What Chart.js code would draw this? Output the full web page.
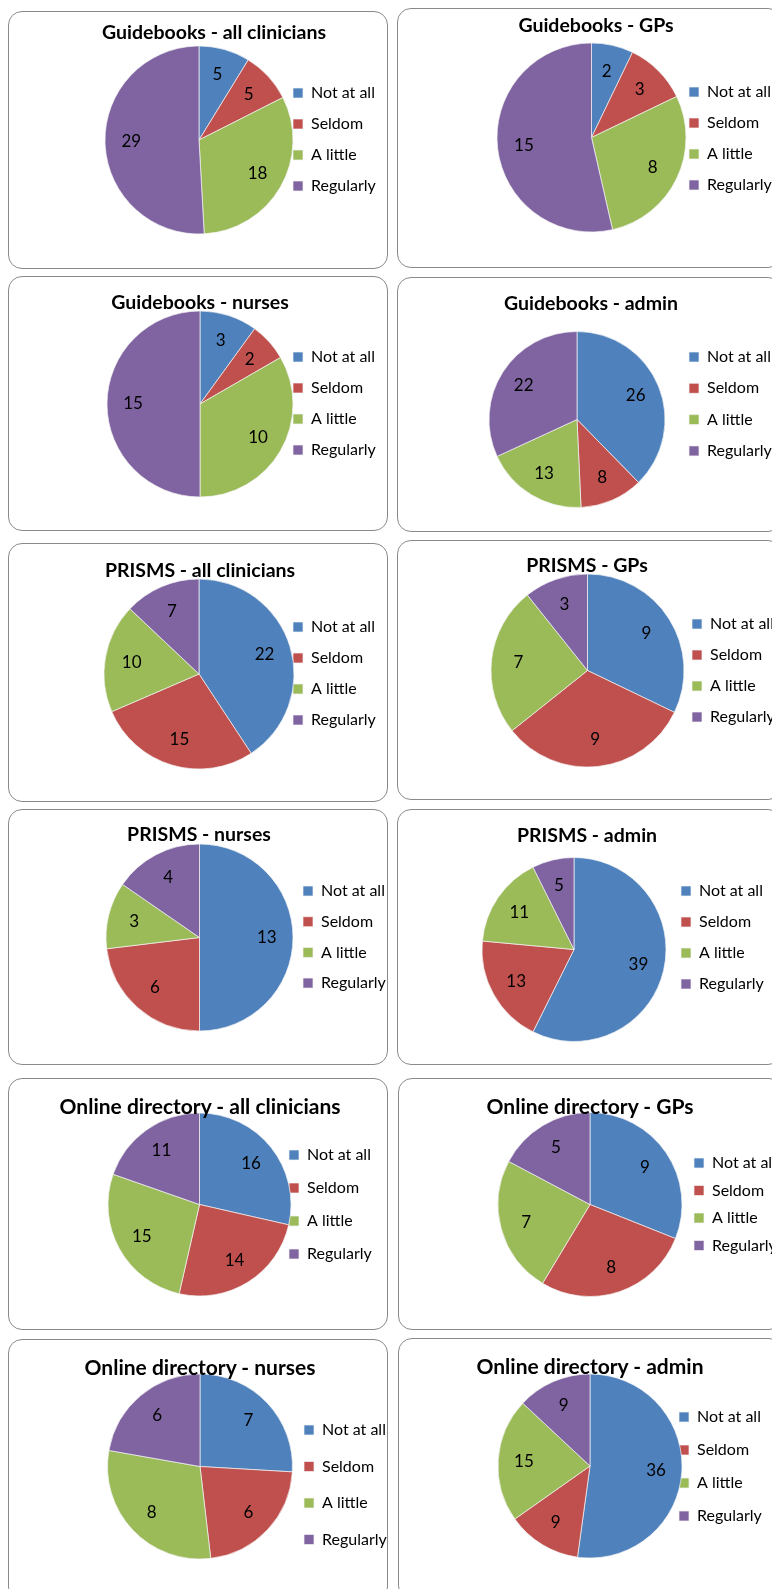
<!DOCTYPE html>
<html>
<head>
<meta charset="utf-8">
<script src="https://cdn.jsdelivr.net/npm/chart.js@4.4.0/dist/chart.umd.min.js"></script>
<style>
html,body{margin:0;padding:0;background:#fff;overflow:hidden;}
body{width:772px;height:1589px;position:relative;font-family:Lato,sans-serif;}
.panel{position:absolute;border:1px solid #8a8a8a;border-radius:14px;box-sizing:border-box;background:#fff;}
canvas{position:absolute;}
.ttl{position:absolute;transform:translate(-50%,-50%);font-weight:bold;white-space:nowrap;line-height:1;color:#000;}
</style>
</head>
<body>
<script>
// categories + colours shared by every pie
const categories = ['Not at all', 'Seldom', 'A little', 'Regularly'];
const colors = ['#4F81BD', '#C0504D', '#9BBB59', '#8064A2'];

// values
const guidebooksAll    = [5, 5, 18, 29];
const guidebooksGPs    = [2, 3, 8, 15];
const guidebooksNurses = [3, 2, 10, 15];
const guidebooksAdmin  = [26, 8, 13, 22];
const prismsAll        = [22, 15, 10, 7];
const prismsGPs        = [9, 9, 7, 3];
const prismsNurses     = [13, 6, 3, 4];
const prismsAdmin      = [39, 13, 11, 5];
const onlineAll        = [16, 14, 15, 11];
const onlineGPs        = [9, 8, 7, 5];
const onlineNurses     = [7, 6, 8, 6];
const onlineAdmin      = [36, 9, 15, 9];

const titles = [
  'Guidebooks - all clinicians', 'Guidebooks - GPs',
  'Guidebooks - nurses', 'Guidebooks - admin',
  'PRISMS - all clinicians', 'PRISMS - GPs',
  'PRISMS - nurses', 'PRISMS - admin',
  'Online directory - all clinicians', 'Online directory - GPs',
  'Online directory - nurses', 'Online directory - admin'
];
const series = [guidebooksAll, guidebooksGPs, guidebooksNurses, guidebooksAdmin,
  prismsAll, prismsGPs, prismsNurses, prismsAdmin,
  onlineAll, onlineGPs, onlineNurses, onlineAdmin];

// panel box, title centre, pie centre/radius, legend box x / first row y / row step
const layout = [
  {x:8,  y:11,   w:380, h:258, tx:214, ty:32,   tf:19.5, cx:199,   cy:140,    r:94,   bx:293, y1:93,   s:31},
  {x:397,y:8,    w:385, h:260, tx:596, ty:25,   tf:19.5, cx:591.5, cy:137.5,  r:94.5, bx:689, y1:92,   s:31},
  {x:8,  y:276,  w:380, h:255, tx:200, ty:302,  tf:19.5, cx:200,   cy:404,    r:93,   bx:293, y1:357,  s:31},
  {x:397,y:277,  w:385, h:255, tx:591, ty:303,  tf:19.5, cx:577,   cy:419.5,  r:88,   bx:689, y1:357,  s:31.3},
  {x:8,  y:543,  w:380, h:259, tx:200, ty:570,  tf:19.5, cx:199,   cy:674,    r:95,   bx:293, y1:627,  s:31},
  {x:397,y:540,  w:385, h:260, tx:587, ty:565,  tf:19.5, cx:587.5, cy:670.5,  r:96.5, bx:692, y1:624,  s:31},
  {x:8,  y:809,  w:380, h:256, tx:199, ty:834,  tf:19.5, cx:199.5, cy:937.5,  r:93.5, bx:303, y1:891,  s:30.7},
  {x:397,y:809,  w:385, h:256, tx:587, ty:835,  tf:19.5, cx:574,   cy:949.5,  r:92,   bx:681, y1:891,  s:31},
  {x:8,  y:1078, w:380, h:252, tx:200, ty:1105, tf:21,   cx:199.5, cy:1204.5, r:91.5, bx:289, y1:1155, s:33},
  {x:398,y:1078, w:385, h:252, tx:590, ty:1105, tf:21,   cx:590,   cy:1204.5, r:92,   bx:694, y1:1163, s:27.5},
  {x:8,  y:1339, w:380, h:262, tx:200, ty:1366, tf:21,   cx:200,   cy:1466.5, r:92.5, bx:304, y1:1430, s:36.5},
  {x:398,y:1338, w:385, h:262, tx:590, ty:1365, tf:21,   cx:590,   cy:1466,   r:92,   bx:679, y1:1417, s:33}
];

const LEG_FONT = 16, LEG_W = 120, CANVAS_W = 420;

// legend keeps a fixed width and never wraps into a second column
const fixedLegend = {
  id: 'fixedLegend',
  beforeUpdate(chart){
    const lg = chart.legend;
    if(!lg || lg._patched) return;
    const fit = lg.fit;
    lg.fit = function(){ this.maxHeight = 2000; fit.call(this); this.width = LEG_W; };
    lg._patched = true;
  },
  afterLayout(chart){
    const lg = chart.legend;
    if(!lg) return;
    lg.bottom = lg.top + 1000; lg.height = 1000;
  }
};

// value labels inside the slices
const sliceLabels = {
  id: 'sliceLabels',
  afterDatasetsDraw(chart){
    const ctx = chart.ctx, ds = chart.data.datasets[0], meta = chart.getDatasetMeta(0);
    ctx.save();
    ctx.font = '17px Lato'; ctx.fillStyle = '#000';
    ctx.textAlign = 'center'; ctx.textBaseline = 'middle';
    meta.data.forEach((arc, i)=>{
      const p = arc.getProps(['x','y','startAngle','endAngle','outerRadius'], true);
      const a = (p.startAngle + p.endAngle) / 2, d = p.outerRadius * 0.72;
      ctx.fillText(ds.data[i], p.x + Math.cos(a) * d, p.y + Math.sin(a) * d);
    });
    ctx.restore();
  }
};

layout.forEach((L, i)=>{
  const panel = document.createElement('div');
  panel.className = 'panel';
  Object.assign(panel.style, {left:L.x+'px', top:L.y+'px', width:L.w+'px', height:L.h+'px'});
  document.body.appendChild(panel);

  const cv = document.createElement('canvas');
  cv.width = CANVAS_W; cv.height = L.h;
  Object.assign(cv.style, {left:L.x+'px', top:L.y+'px', width:CANVAS_W+'px', height:L.h+'px'});
  document.body.appendChild(cv);

  const pad = L.s - LEG_FONT;
  const legLeft = L.bx - L.x - pad;
  const padL = 2 * (L.cx - L.x) - legLeft;
  const padR = CANVAS_W - LEG_W - legLeft;
  const padT = L.y1 - L.y - pad - LEG_FONT / 2;
  const padB = L.h - (2 * (L.cy - L.y) - padT);

  new Chart(cv.getContext('2d'), {
    type: 'pie',
    data: { labels: categories, datasets: [{ data: series[i], backgroundColor: colors,
      borderColor: '#f4f4f4', borderWidth: 0.7, radius: L.r, clip: false }] },
    options: {
      responsive: false, animation: false,
      layout: { padding: { left: padL, right: padR, top: padT, bottom: padB } },
      plugins: {
        legend: { position: 'right', align: 'start',
          labels: { boxWidth: 10, boxHeight: 10, padding: pad, color: '#000',
            font: { family: 'Lato', size: LEG_FONT } } },
        tooltip: { enabled: false }
      }
    },
    plugins: [fixedLegend, sliceLabels]
  });

  const t = document.createElement('div');
  t.className = 'ttl';
  t.textContent = titles[i];
  Object.assign(t.style, {left:L.tx+'px', top:L.ty+'px', fontSize:L.tf+'px'});
  document.body.appendChild(t);
});
</script>
</body>
</html>
